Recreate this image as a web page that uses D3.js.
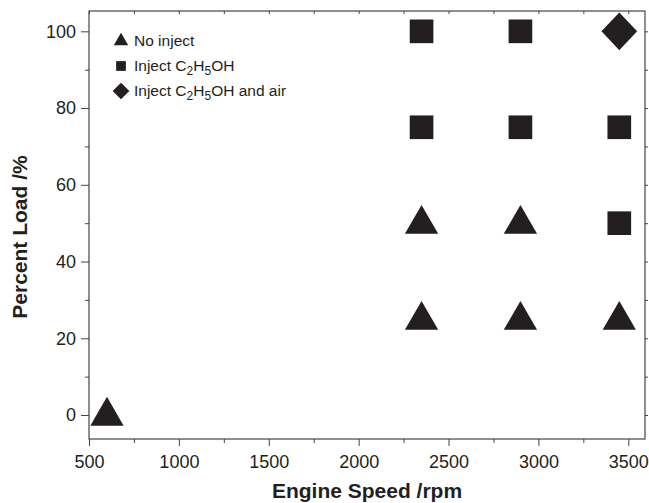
<!DOCTYPE html>
<html>
<head>
<meta charset="utf-8">
<script src="https://cdn.jsdelivr.net/npm/d3@7"></script>
<style>
  body { margin: 0; background: #fff; }
  text { font-family: "Liberation Sans", Arial, sans-serif; fill: #231f20; }
</style>
</head>
<body>
<svg id="chart" width="649" height="503"></svg>
<script>
// points (rpm, percent load)
const noInjectX = [600, 2350, 2900, 3450, 2350, 2900];
const noInjectY = [0, 25, 25, 25, 50, 50];
const ethanolX = [3450, 2350, 2900, 3450, 2350, 2900];
const ethanolY = [50, 75, 75, 75, 100, 100];
const ethAirX = [3450];
const ethAirY = [100];

const xTicks = [500, 1000, 1500, 2000, 2500, 3000, 3500];
const yTicks = [0, 20, 40, 60, 80, 100];

const svg = d3.select("#chart");
const plotL = 89, plotR = 645, plotT = 11, plotB = 439;

const x = d3.scaleLinear().domain([500, 3593]).range([plotL, plotR]);
const y = d3.scaleLinear().domain([-6.25, 105.3]).range([plotB, plotT]);

const ink = "#231f20";

// minor tick values
const xMinor = d3.range(750, 3600, 500);
const yMinor = d3.range(10, 110, 20);

// bottom axis
svg.append("g").attr("transform", "translate(0," + plotB + ")")
  .call(d3.axisBottom(x).tickValues(xTicks).tickSize(7).tickPadding(9).tickFormat(d3.format("d")));
svg.append("g").attr("transform", "translate(0," + plotB + ")")
  .call(d3.axisBottom(x).tickValues(xMinor).tickSize(4).tickFormat(""));
// left axis
svg.append("g").attr("transform", "translate(" + plotL + ",0)")
  .call(d3.axisLeft(y).tickValues(yTicks).tickSize(8).tickPadding(5).tickFormat(d3.format("d")));
svg.append("g").attr("transform", "translate(" + plotL + ",0)")
  .call(d3.axisLeft(y).tickValues(yMinor).tickSize(4).tickFormat(""));
// top axis (mirror, short inward ticks)
svg.append("g").attr("transform", "translate(0," + plotT + ")")
  .call(d3.axisBottom(x).tickValues(xTicks.concat(xMinor)).tickSize(3).tickFormat(""));
// right axis (mirror)
svg.append("g").attr("transform", "translate(" + plotR + ",0)")
  .call(d3.axisRight(y).tickValues(yTicks.concat(yMinor)).tickSize(3).tickFormat(""));

svg.selectAll(".domain").remove();
svg.selectAll(".tick line").attr("stroke", "#444").attr("stroke-width", 1);
svg.selectAll(".tick text").style("font-size", "18px").attr("fill", ink);

svg.append("rect")
  .attr("x", plotL).attr("y", plotT)
  .attr("width", plotR - plotL).attr("height", plotB - plotT)
  .attr("fill", "none").attr("stroke", "#444").attr("stroke-width", 1.2);

// axis titles
svg.append("text")
  .attr("x", (plotL + plotR) / 2).attr("y", 498)
  .attr("text-anchor", "middle")
  .style("font-size", "21px").style("font-weight", "bold")
  .text("Engine Speed /rpm");

svg.append("text")
  .attr("transform", "translate(27," + 237 + ") rotate(-90)")
  .attr("text-anchor", "middle")
  .style("font-size", "21px").style("font-weight", "bold")
  .text("Percent Load /%");

// markers
const triangle = d3.symbol().type(d3.symbolTriangle).size(480);
const square = d3.symbol().type(d3.symbolSquare).size(560);
const diamond = d3.symbol().type(d3.symbolSquare).size(690);

function toPts(xs, ys) { return xs.map((v, i) => [v, ys[i]]); }

svg.append("g").selectAll("path")
  .data(toPts(noInjectX, noInjectY))
  .join("path")
  .attr("d", triangle)
  .attr("transform", d => "translate(" + x(d[0]) + "," + (y(d[1]) + 1) + ")")
  .attr("fill", ink);

svg.append("g").selectAll("path")
  .data(toPts(ethanolX, ethanolY))
  .join("path")
  .attr("d", square)
  .attr("transform", d => "translate(" + x(d[0]) + "," + y(d[1]) + ")")
  .attr("fill", ink);

svg.append("g").selectAll("path")
  .data(toPts(ethAirX, ethAirY))
  .join("path")
  .attr("d", diamond)
  .attr("transform", d => "translate(" + x(d[0]) + "," + y(d[1]) + ") scale(0.96,1.02) rotate(45)")
  .attr("fill", ink);

// legend
const legend = svg.append("g").attr("transform", "translate(121,0)");
const legRows = [
  { sym: d3.symbol().type(d3.symbolTriangle).size(90), rot: 0, y: 41, parts: [["No inject", 0]] },
  { sym: d3.symbol().type(d3.symbolSquare).size(95), rot: 0, y: 66, parts: [["Inject C", 0], ["2", 1], ["H", 0], ["5", 1], ["OH", 0]] },
  { sym: d3.symbol().type(d3.symbolSquare).size(140), rot: 45, y: 91, parts: [["Inject C", 0], ["2", 1], ["H", 0], ["5", 1], ["OH and air", 0]] }
];
legRows.forEach(function(r) {
  legend.append("path").attr("d", r.sym)
    .attr("transform", "translate(0," + r.y + ") rotate(" + r.rot + ")")
    .attr("fill", ink);
  const t = legend.append("text").attr("x", 13).attr("y", r.y + 5).style("font-size", "15.5px");
  let sub = false;
  r.parts.forEach(function(p) {
    const ts = t.append("tspan").text(p[0]);
    if (p[1] && !sub) { ts.attr("dy", 4).style("font-size", "12px"); sub = true; }
    else if (p[1] && sub) { ts.attr("dy", 0).style("font-size", "12px"); }
    else if (!p[1] && sub) { ts.attr("dy", -4); sub = false; }
  });
});
</script>
</body>
</html>
